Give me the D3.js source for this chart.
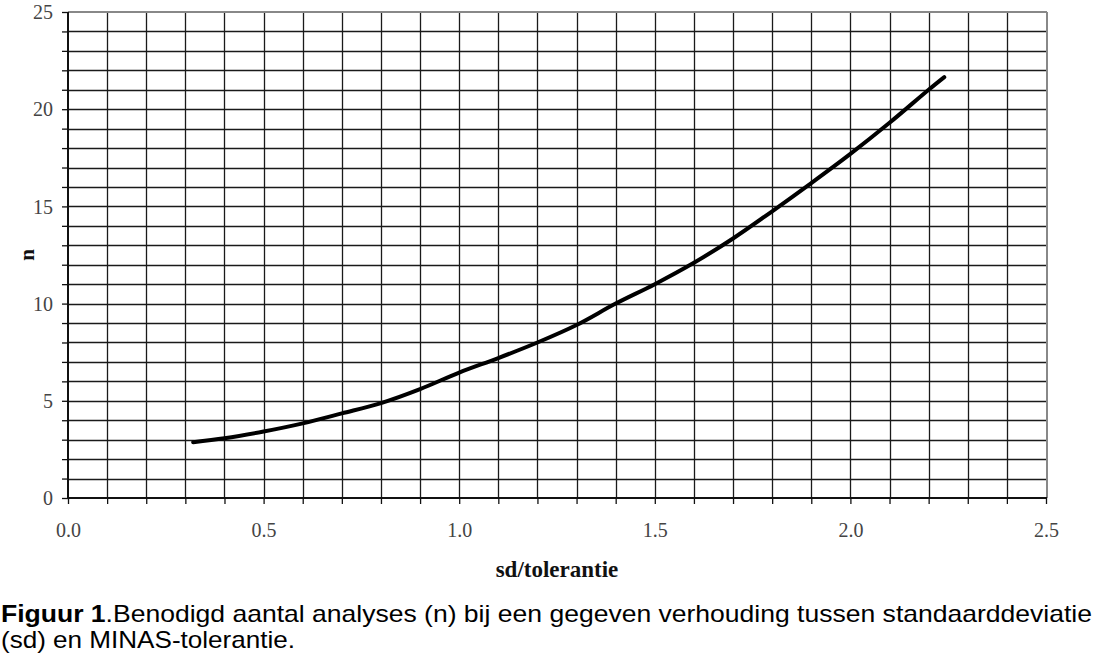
<!DOCTYPE html>
<html>
<head>
<meta charset="utf-8">
<script src="https://cdn.jsdelivr.net/npm/d3@7"></script>
<style>
  html, body { margin: 0; padding: 0; background: #fff; }
  svg { display: block; }
</style>
</head>
<body>
<svg id="chart" width="1097" height="665"></svg>
<script>
const sdRatio = [0.32, 0.4, 0.5, 0.6, 0.7, 0.8, 0.9, 1.0, 1.1, 1.2, 1.3, 1.4, 1.5, 1.6, 1.7, 1.8, 1.9, 2.0, 2.1, 2.2, 2.24];
const nValues = [2.87, 3.07, 3.42, 3.84, 4.35, 4.88, 5.6, 6.45, 7.2, 8.0, 8.9, 10.0, 11.0, 12.1, 13.35, 14.75, 16.2, 17.7, 19.3, 21.0, 21.65];
const xTickLabels = [0.0, 0.5, 1.0, 1.5, 2.0, 2.5];
const yTickLabels = [0, 5, 10, 15, 20, 25];
const xTitle = "sd/tolerantie";
const yTitle = "n";
const captionBold = "Figuur 1";
const captionLine1 = ".Benodigd aantal analyses (n) bij een gegeven verhouding tussen standaarddeviatie";
const captionLine2 = "(sd) en MINAS-tolerantie.";

const svg = d3.select("#chart");
const m = { left: 68, right: 1046, top: 12, bottom: 498 };
const serif = "'Liberation Serif', 'Times New Roman', serif";
const sans = "'Liberation Sans', Arial, sans-serif";

const x = d3.scaleLinear().domain([0, 2.5]).range([m.left, m.right]);
const y = d3.scaleLinear().domain([0, 25]).range([m.bottom, m.top]);

const xMinor = d3.range(0, 26).map(i => i / 10);
const yMinor = d3.range(0, 26);

// gridlines
const grid = svg.append("g");
grid.selectAll("line.v").data(xMinor.slice(1, -1)).join("line")
  .attr("x1", d => Math.round(x(d)) + 0.5).attr("x2", d => Math.round(x(d)) + 0.5)
  .attr("y1", m.top).attr("y2", m.bottom)
  .attr("stroke", "#1a1a1a").attr("stroke-width", 1.3);
grid.selectAll("line.h").data(yMinor.slice(1, -1)).join("line")
  .attr("y1", d => Math.round(y(d)) + 0.5).attr("y2", d => Math.round(y(d)) + 0.5)
  .attr("x1", m.left).attr("x2", m.right)
  .attr("stroke", "#1a1a1a").attr("stroke-width", 1.3);

// border: top and right gray
svg.append("line").attr("x1", m.left).attr("x2", m.right + 1).attr("y1", m.top).attr("y2", m.top)
  .attr("stroke", "#888").attr("stroke-width", 2);
svg.append("line").attr("x1", m.right + 1).attr("x2", m.right + 1).attr("y1", m.top).attr("y2", m.bottom)
  .attr("stroke", "#888").attr("stroke-width", 2);

// axes
const xAxis = d3.axisBottom(x).tickValues(xMinor).tickSize(6)
  .tickFormat(d => xTickLabels.some(v => Math.abs(v - d) < 1e-9) ? d3.format(".1f")(d) : "");
const gx = svg.append("g").attr("transform", `translate(0,${m.bottom})`).call(xAxis);
gx.select(".domain").attr("stroke", "#111").attr("stroke-width", 2)
  .attr("d", `M${m.left},0H${m.right + 1}`);
gx.selectAll(".tick line").attr("stroke", "#111").attr("stroke-width", 1.3);
gx.selectAll(".tick text").attr("dy", "0").attr("y", 39)
  .attr("font-family", serif).attr("font-size", 20).attr("fill", "#444");

const yAxis = d3.axisLeft(y).tickValues(yMinor).tickSize(6)
  .tickFormat(d => yTickLabels.includes(d) ? String(d) : "");
const gy = svg.append("g").attr("transform", `translate(${m.left},0)`).call(yAxis);
gy.select(".domain").attr("stroke", "#111").attr("stroke-width", 2)
  .attr("d", `M0,${m.top}V${m.bottom + 1}`);
gy.selectAll(".tick line").attr("stroke", "#111").attr("stroke-width", 1.3);
gy.selectAll(".tick text").attr("x", -15).attr("dy", "0.33em")
  .attr("font-family", serif).attr("font-size", 20).attr("fill", "#444");

// curve
const pts = sdRatio.map((s, i) => [s, nValues[i]]);
svg.append("path").datum(pts)
  .attr("d", d3.line().x(d => x(d[0])).y(d => y(d[1])).curve(d3.curveCatmullRom))
  .attr("fill", "none").attr("stroke", "#000").attr("stroke-width", 4)
  .attr("stroke-linecap", "round").attr("stroke-linejoin", "round");

// axis titles
svg.append("text").attr("x", 557).attr("y", 577)
  .attr("text-anchor", "middle")
  .attr("font-family", serif)
  .attr("font-weight", "bold").attr("font-size", 23).attr("fill", "#111")
  .text(xTitle);
svg.append("text").attr("transform", `translate(34,255) rotate(-90)`)
  .attr("text-anchor", "middle")
  .attr("font-family", serif)
  .attr("font-weight", "bold").attr("font-size", 21).attr("fill", "#111")
  .text(yTitle);

// caption
const cap = svg.append("text").attr("x", 1).attr("y", 622)
  .attr("font-family", sans).attr("font-size", 24).attr("fill", "#000")
  .attr("textLength", 1091).attr("lengthAdjust", "spacingAndGlyphs");
cap.append("tspan").attr("font-weight", "bold").text(captionBold);
cap.append("tspan").text(captionLine1);
svg.append("text").attr("x", 1).attr("y", 648)
  .attr("font-family", sans).attr("font-size", 24).attr("fill", "#000")
  .attr("textLength", 294).attr("lengthAdjust", "spacingAndGlyphs")
  .text(captionLine2);
</script>
</body>
</html>
